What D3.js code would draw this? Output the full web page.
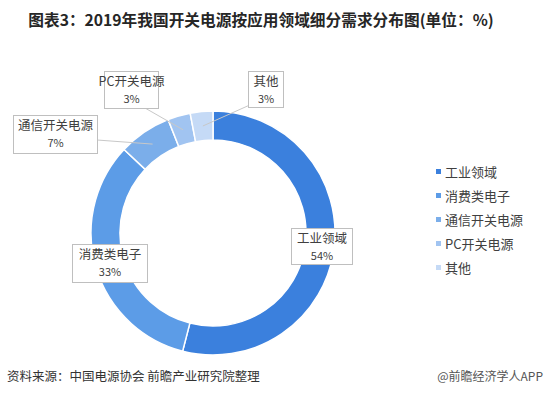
<!DOCTYPE html>
<html>
<head>
<meta charset="utf-8">
<script src="https://cdn.jsdelivr.net/npm/d3@7"></script>
<style>
  body { margin: 0; background: #fff; }
  svg { font-family: "Noto Sans CJK SC", "Noto Sans", sans-serif; }
</style>
</head>
<body>
<div id="chart"></div>
<script>
// Chart data
const categories = ["工业领域", "消费类电子", "通信开关电源", "PC开关电源", "其他"];
const shares = [54, 33, 7, 3, 3];
const colors = ["#3b80dd", "#5c9ce7", "#7baeea", "#a1c4f1", "#c5daf6"];

// Label boxes (x, y of top-left corner, width, height)
const labelBoxes = [
    {x: 291, y: 228, w: 61, h: 36},
    {x: 72, y: 244, w: 75, h: 38},
    {x: 13, y: 115, w: 84, h: 38},
    {x: 104, y: 71, w: 54, h: 37},
    {x: 248, y: 71, w: 35, h: 36}
];

const width = 545, height = 397;
const cx = 213, cy = 233, outerR = 122, innerR = 93;

const svg = d3.select("#chart")
  .append("svg")
    .attr("width", width)
    .attr("height", height);

// Title
svg.append("text")
    .attr("x", 261)
    .attr("y", 26)
    .attr("text-anchor", "middle")
    .style("font-size", "15.7px")
    .style("font-weight", "bold")
    .style("fill", "#262626")
    .text("图表3：2019年我国开关电源按应用领域细分需求分布图(单位：%)");

const pie = d3.pie().sort(null).value(d => d);
const arc = d3.arc().innerRadius(innerR).outerRadius(outerR);
const arcs = pie(shares);

const g = svg.append("g")
    .attr("transform", `translate(${cx},${cy})`);

g.selectAll("path")
  .data(arcs)
  .join("path")
    .attr("d", arc)
    .attr("fill", (d, i) => colors[i])
    .attr("stroke", "#fff")
    .attr("stroke-width", 1.5);

// Leader lines for the small slices
const midArc = d3.arc().innerRadius((innerR + outerR) / 2).outerRadius((innerR + outerR) / 2);
const leaderFrom = [null, null, [97, 140], [145, 108], [252, 104]];
arcs.forEach((d, i) => {
    if (!leaderFrom[i]) return;
    const c = midArc.centroid(d);
    svg.append("line")
        .attr("x1", leaderFrom[i][0])
        .attr("y1", leaderFrom[i][1])
        .attr("x2", cx + c[0])
        .attr("y2", cy + c[1])
        .attr("stroke", "#c8c8c8")
        .attr("stroke-width", 1);
});

// Data label boxes, name and share in one text block
labelBoxes.forEach((b, i) => {
    svg.append("rect")
        .attr("x", b.x + 0.5)
        .attr("y", b.y + 0.5)
        .attr("width", b.w)
        .attr("height", b.h)
        .attr("fill", "#fff")
        .attr("stroke", "#bfbfbf");
    const t = svg.append("text")
        .attr("text-anchor", "middle")
        .style("fill", "#404040");
    t.append("tspan")
        .attr("x", b.x + b.w / 2 + 0.5)
        .attr("y", b.y + 15)
        .style("font-size", "12.5px")
        .text(categories[i]);
    t.append("tspan")
        .attr("x", b.x + b.w / 2 + 0.5)
        .attr("y", b.y + 32)
        .style("font-size", "11px")
        .text(shares[i] + "%");
});

// Legend
const legend = svg.append("g");
categories.forEach((c, i) => {
    const y = 172 + i * 24;
    legend.append("rect")
        .attr("x", 436)
        .attr("y", y - 3)
        .attr("width", 5)
        .attr("height", 5)
        .attr("fill", colors[i]);
    legend.append("text")
        .attr("x", 445)
        .attr("y", y + 4.5)
        .style("font-size", "13px")
        .style("fill", "#404040")
        .text(c);
});

// Footer
svg.append("text")
    .attr("x", 7)
    .attr("y", 381)
    .style("font-size", "12.5px")
    .style("fill", "#333")
    .text("资料来源：中国电源协会 前瞻产业研究院整理");

svg.append("text")
    .attr("x", 543)
    .attr("y", 381)
    .attr("text-anchor", "end")
    .style("font-size", "12px")
    .style("fill", "#555")
    .text("@前瞻经济学人APP");
</script>
</body>
</html>
